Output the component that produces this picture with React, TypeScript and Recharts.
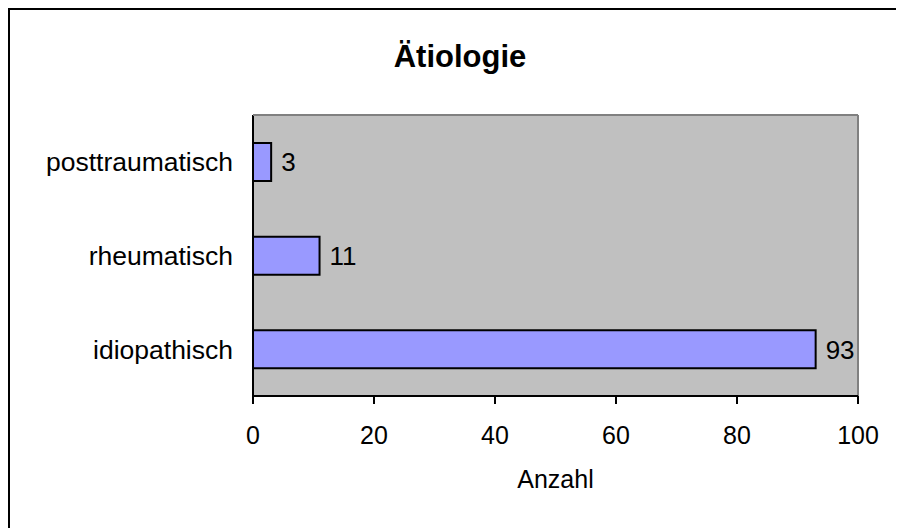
import { BarChart, Bar, XAxis, YAxis, CartesianGrid, LabelList } from 'recharts';

const categories = ['posttraumatisch', 'rheumatisch', 'idiopathisch'];
const counts = [3, 11, 93];
const xTicks = [0, 20, 40, 60, 80, 100];
const bandEdges = [0, 1, 2, 3];

const FONT = '"Liberation Sans", Arial, sans-serif';

function App() {
  // one row per category, top to bottom
  const chartData = categories.map((name, i) => ({ name, value: counts[i] }));

  // the frame is cut off at the right and bottom, only top and left edges show
  return (
    <>
      <style>{'html, body { overflow: hidden; }'}</style>
      <div
        style={{
          borderTop: '2px solid #000',
          borderLeft: '2px solid #000',
          width: 894,
          height: 518,
          overflow: 'hidden',
          fontFamily: FONT,
        }}
      >
        <BarChart
          width={920}
          height={530}
          data={chartData}
          layout="vertical"
          accessibilityLayer={false}
          margin={{ top: 104, right: 71, left: 0, bottom: 44 }}
        >
          <CartesianGrid horizontal={false} vertical={false} fill="#C0C0C0" />
          <text x={450} y={57} textAnchor="middle" fontSize={31} fontWeight="bold" fill="#000">
            Ätiologie
          </text>
          <YAxis
            type="category"
            dataKey="name"
            width={243}
            axisLine={false}
            tickLine={false}
            tickSize={0}
            tickMargin={20}
            tick={{ fill: '#000', fontSize: 26.5 }}
          />
          {/* tick marks on the category boundaries, mirrored so it takes no room */}
          <YAxis
            yAxisId="edges"
            type="number"
            domain={[0, 3]}
            ticks={bandEdges}
            mirror
            width={1}
            tick={false}
            tickSize={-10}
            tickLine={{ stroke: '#000', strokeWidth: 2 }}
            axisLine={{ stroke: '#000', strokeWidth: 2 }}
          />
          <YAxis
            yAxisId="right"
            orientation="right"
            type="number"
            domain={[0, 1]}
            width={1}
            tick={false}
            tickLine={false}
            axisLine={{ stroke: '#808080', strokeWidth: 2 }}
          />
          <XAxis
            xAxisId="top"
            orientation="top"
            type="number"
            domain={[0, 100]}
            height={1}
            tick={false}
            tickLine={false}
            axisLine={{ stroke: '#808080', strokeWidth: 2 }}
          />
          <XAxis
            type="number"
            domain={[0, 100]}
            ticks={xTicks}
            height={100}
            tickSize={8}
            tickMargin={22}
            tick={{ fill: '#000', fontSize: 25 }}
            tickLine={{ stroke: '#000', strokeWidth: 2 }}
            axisLine={{ stroke: '#000', strokeWidth: 2 }}
            label={{ value: 'Anzahl', position: 'insideBottom', offset: 8, fill: '#000', fontSize: 25 }}
          />
          <Bar dataKey="value" fill="#9999FF" stroke="#000" strokeWidth={2} barSize={38} isAnimationActive={false}>
            <LabelList dataKey="value" position="right" offset={10} fill="#000" fontSize={26} />
          </Bar>
        </BarChart>
      </div>
    </>
  );
}

export default App;
